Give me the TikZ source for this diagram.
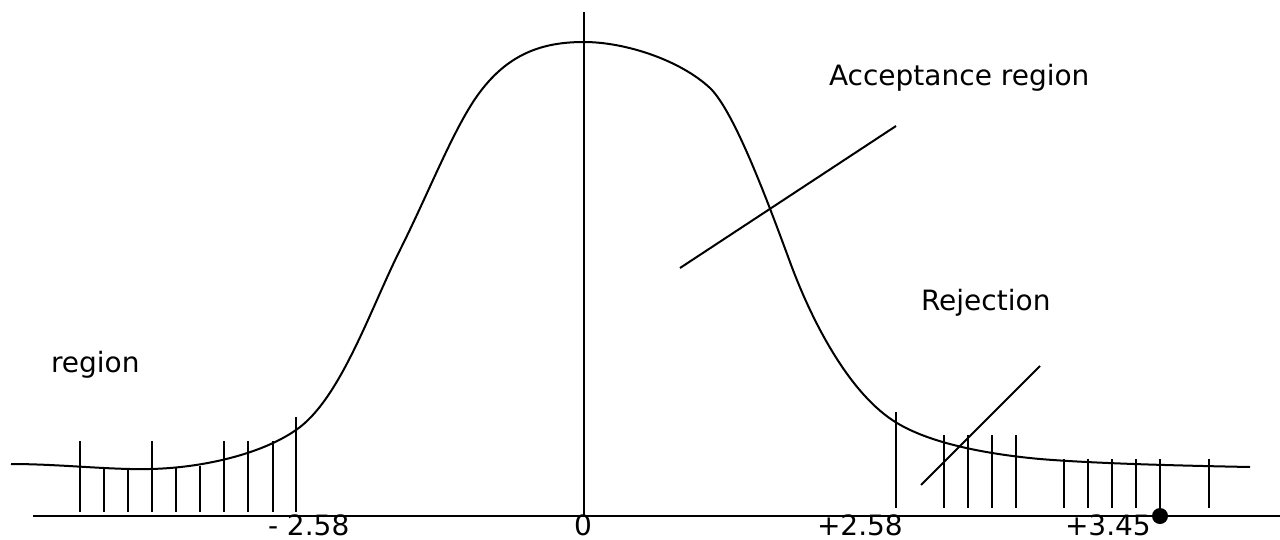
\documentclass[tikz,border=0pt]{standalone}
\usepackage{fontspec}
\setmainfont{DejaVu Sans}
\usetikzlibrary{positioning}

\begin{document}
\begin{tikzpicture}[x=1pt, y=-1pt, line width=2pt,
    every node/.style={font=\fontsize{28}{34}\selectfont, inner sep=0pt, anchor=base west},
    tallbar/.style={line width=2pt},
    pointer/.style={line width=2pt}]
    \useasboundingbox (0,0) rectangle (1280,539);
    % axes
    \coordinate (xl) at (33,516);
    \coordinate (xr) at (1280,516);
    \coordinate (yt) at (584,12);
    \coordinate (yb) at (584,516);
    \draw (xl) -- (xr);
    \draw (yt) -- (yb);
    % the bell curve
    \draw (11,464) .. controls (60,464) and (110,470) .. (150,469)
        .. controls (200,468) and (260,455) .. (296,430)
        .. controls (340,400) and (370,310) .. (400,250)
        .. controls (430,190) and (455,125) .. (480,92)
        .. controls (510,52) and (545,42) .. (584,42)
        .. controls (625,42) and (680,60) .. (710,88)
        .. controls (735,112) and (770,208) .. (790,262)
        .. controls (812,322) and (850,395) .. (897,423)
        .. controls (930,443) and (985,454) .. (1040,459)
        .. controls (1100,464) and (1200,466) .. (1250,467);
    % left tail bars
    \foreach \x in {80,152,224,248,273} \draw[tallbar] (\x,441) -- (\x,512);
    \foreach \x/\t in {104/468,128/469,176/468,200/466} \draw[tallbar] (\x,\t) -- (\x,512);
    \draw[tallbar] (296,417) -- (296,512);
    % right tail bars
    \draw[tallbar] (896,412) -- (896,508);
    \foreach \x in {944,968,992,1016} \draw[tallbar] (\x,435) -- (\x,508);
    \foreach \x in {1064,1088,1112,1136,1160,1209} \draw[tallbar] (\x,459) -- (\x,508);
    % labels
    \node (acc) at (828,85) {Acceptance region};
    \node (rej) at (920,310) {Rejection};
    \node (reg) at (50,372) {region};
    \node (lcrit) at (267,535) {- 2.58};
    \node (zero) at (573,535) {0};
    \node (rcrit) at (816,535) {+2.58};
    \node (obs) at (1064,535) {+3.45};
    % pointer lines
    \coordinate (acca) at (680,268);
    \coordinate (accb) at (896,126);
    \coordinate (reja) at (921,485);
    \coordinate (rejb) at (1040,366);
    \draw[pointer] (acca) -- (accb);
    \draw[pointer] (reja) -- (rejb);
    % observed value
    \node[circle, fill, minimum size=16pt, anchor=center] (dot) at (1160,516) {};
\end{tikzpicture}
\end{document}
